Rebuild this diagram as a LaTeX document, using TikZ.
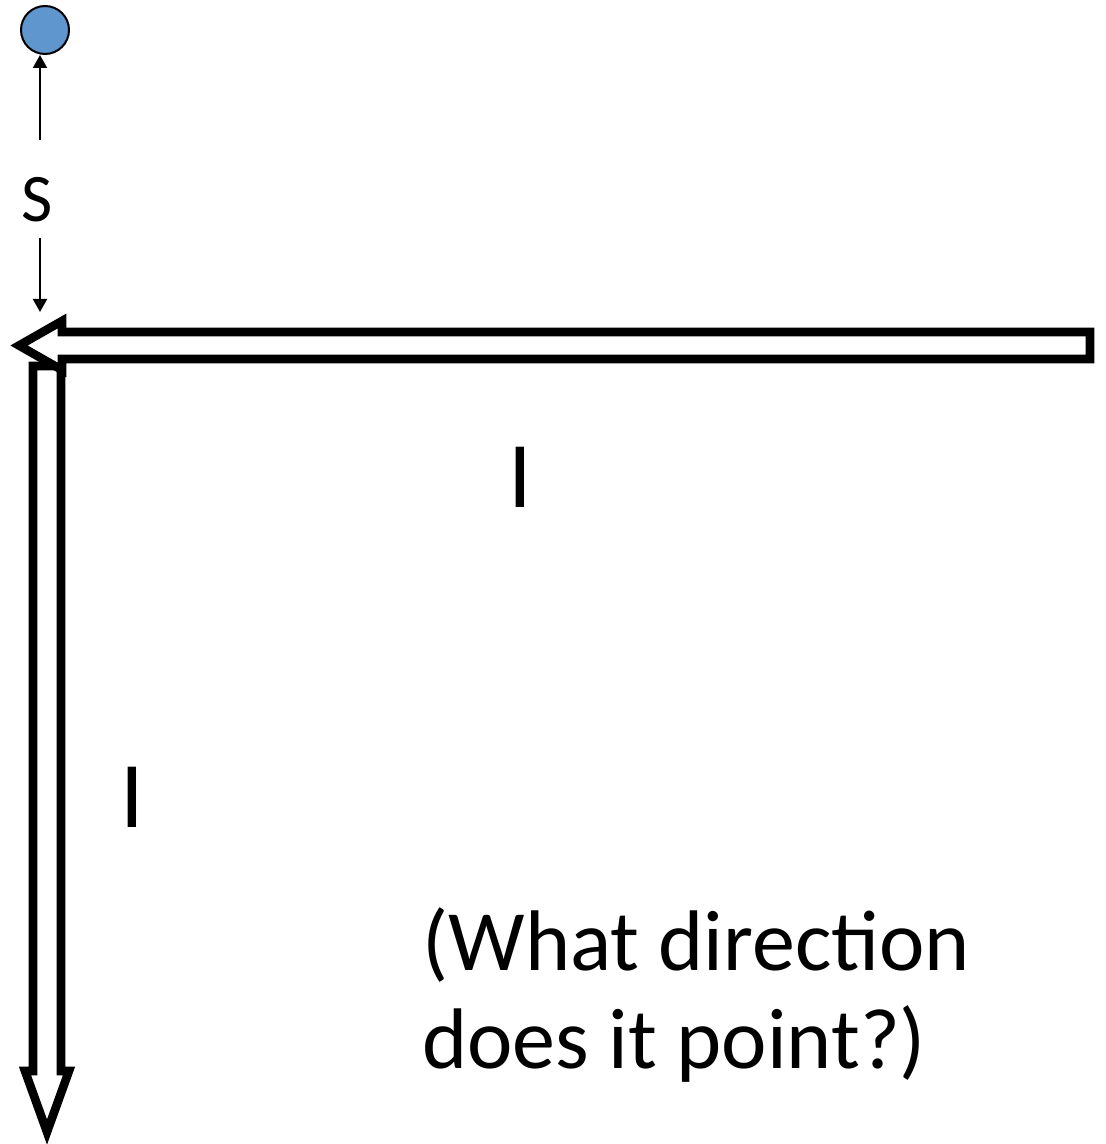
\documentclass[tikz,border=0pt]{standalone}
\usepackage{fontspec}
\setmainfont{Carlito}
\usetikzlibrary{arrows.meta}
\definecolor{chargeblue}{RGB}{96,150,206}
\begin{document}
\begin{tikzpicture}[
    x=0.5pt, y=-0.5pt,
    dot/.style={circle, draw, line width=1pt, fill=chargeblue,
                minimum size=24pt, inner sep=0pt},
    pointer/.style={line width=1pt, -{Triangle[length=6.5pt,width=7pt]}},
    hollow/.style={line width=4.3pt, line join=miter, fill=white},
    sym/.style={font=\fontsize{47}{56}\selectfont, anchor=base, inner sep=0pt},
    note/.style={font=\fontsize{43}{49}\selectfont, align=left,
                 anchor=base west, inner sep=0pt}
  ]
  \useasboundingbox (0,0) rectangle (1105,1144);

  \node[dot] (charge) at (45,30) {};
  \node[font=\fontsize{34}{40}\selectfont, anchor=base, inner sep=0pt]
    (s) at (37,222) {S};
  \coordinate (stop) at (40,140);
  \coordinate (sbot) at (40,238);
  \coordinate (corner) at (40,312);

  % distance s from the charge to the wire
  \draw[pointer] (stop) -- (charge.south -| stop);
  \draw[pointer] (sbot) -- (corner);

  % the two currents, as hollow arrows
  \draw[hollow] (33,366) -- (61,366) -- (61,1071) -- (69,1071)
    -- (47,1132) -- (25,1071) -- (33,1071) -- cycle;
  \draw[hollow] (1090,332) -- (62,332) -- (62,321) -- (19,345.5)
    -- (62,370) -- (62,359) -- (1090,359) -- cycle;

  \node[sym] (ihor) at (520,507) {I};
  \node[sym] (ivert) at (132,827) {I};

  \node[note] (question) at (422,1068) {(What direction\\does it point?)};

\end{tikzpicture}
\end{document}
